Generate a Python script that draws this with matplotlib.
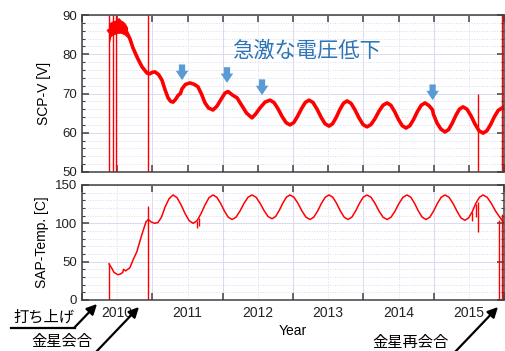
import numpy as np
import matplotlib
matplotlib.use('Agg')
import matplotlib.pyplot as plt
from matplotlib.ticker import MultipleLocator, FixedLocator, NullFormatter

plt.rcParams['font.family'] = ['Liberation Sans', 'Noto Sans CJK JP', 'DejaVu Sans']

# SCP voltage [V] (year, value)
volt_t = [2010.384, 2010.45, 2010.52, 2010.58, 2010.63, 2010.68, 2010.725, 2010.79, 2010.853,
          2010.924, 2010.96, 2011.0, 2011.038, 2011.09, 2011.137, 2011.18, 2011.223, 2011.26,
          2011.294, 2011.33, 2011.37, 2011.40, 2011.422, 2011.47, 2011.536, 2011.60, 2011.649,
          2011.70, 2011.749, 2011.80, 2011.863, 2011.92, 2011.98, 2012.033, 2012.076, 2012.14,
          2012.204, 2012.27, 2012.34, 2012.417, 2012.47, 2012.53, 2012.602, 2012.673,
          2012.730, 2012.787, 2012.843, 2012.900, 2012.957,
          2013.011, 2013.065, 2013.120, 2013.174, 2013.228,
          2013.285, 2013.342, 2013.398, 2013.455, 2013.512,
          2013.563, 2013.614, 2013.666, 2013.717, 2013.768,
          2013.825, 2013.882, 2013.938, 2013.995, 2014.052,
          2014.109, 2014.166, 2014.223, 2014.280, 2014.337,
          2014.391, 2014.445, 2014.499, 2014.553, 2014.607,
          2014.661, 2014.715, 2014.769, 2014.823, 2014.877,
          2014.934, 2014.985, 2014.995, 2015.047, 2015.104, 2015.161,
          2015.212, 2015.263, 2015.315, 2015.366, 2015.417,
          2015.474, 2015.531, 2015.588, 2015.645, 2015.702,
          2015.756, 2015.810, 2015.864, 2015.918, 2015.972, 2016.0]
volt_v = [86.0, 86.8, 87.0, 86.8, 85.8, 84.0, 81.6, 79.0, 76.8,
          75.2, 75.0, 75.4, 75.5, 74.8, 73.4, 71.0, 68.9, 68.0,
          67.8, 68.5, 69.6, 70.0, 71.2, 72.3, 72.7, 72.3, 71.7,
          69.8, 67.6, 66.3, 65.8, 66.8, 68.6, 70.1, 70.5, 69.6,
          68.9, 67.0, 65.0, 63.8, 64.8, 66.3, 67.8, 68.3,
          67.7, 66.1, 64.2, 62.6, 62.0,
          62.6, 64.2, 66.1, 67.7, 68.3,
          67.7, 66.0, 64.0, 62.3, 61.7,
          62.3, 63.9, 65.9, 67.5, 68.1,
          67.5, 65.8, 63.8, 62.1, 61.5,
          62.1, 63.6, 65.5, 67.0, 67.6,
          67.0, 65.4, 63.4, 61.8, 61.2,
          61.8, 63.4, 65.4, 67.0, 67.6,
          66.9, 65.8, 64.8, 62.5, 60.9, 60.2,
          60.8, 62.4, 64.4, 66.0, 66.6,
          66.0, 64.3, 62.2, 60.5, 59.9,
          60.5, 62.1, 64.1, 65.7, 66.3, 66.6]

# noisy band right after launch
band_t = [2010.384, 2010.40, 2010.43, 2010.46, 2010.49, 2010.52, 2010.55, 2010.58, 2010.61, 2010.64]
band_lo = [83.0, 84.5, 85.0, 85.2, 85.4, 85.5, 85.5, 85.3, 85.0, 84.5]
band_hi = [87.5, 88.0, 88.3, 88.5, 88.6, 89.2, 88.6, 88.3, 87.8, 86.8]

# data drop-outs drawn as vertical spikes
vspike_t = [2010.384, 2010.437, 2010.483, 2010.943, 2015.631, 2015.972]
vspike_lo = [50, 50, 50, 50, 50, 50]
vspike_hi = [90, 90, 90, 90, 70, 90]

# SAP temperature [C]
temp_t = [2010.384, 2010.42, 2010.455, 2010.51, 2010.55, 2010.58, 2010.59, 2010.62, 2010.68,
          2010.725, 2010.78, 2010.85, 2010.91, 2010.943, 2010.98, 2011.03, 2011.08, 2011.13,
          2011.18, 2011.237, 2011.294,
          2011.351, 2011.408, 2011.465, 2011.523, 2011.58,
          2011.637, 2011.693, 2011.750, 2011.806, 2011.863,
          2011.917, 2011.971, 2012.025, 2012.079, 2012.133,
          2012.190, 2012.246, 2012.303, 2012.360, 2012.417,
          2012.474, 2012.531, 2012.588, 2012.645, 2012.702,
          2012.753, 2012.804, 2012.855, 2012.906, 2012.957,
          2013.014, 2013.071, 2013.128, 2013.185, 2013.242,
          2013.296, 2013.350, 2013.404, 2013.458, 2013.512,
          2013.566, 2013.620, 2013.674, 2013.728, 2013.782,
          2013.836, 2013.890, 2013.944, 2013.998, 2014.052,
          2014.109, 2014.166, 2014.223, 2014.280, 2014.337,
          2014.394, 2014.451, 2014.507, 2014.564, 2014.621,
          2014.675, 2014.729, 2014.783, 2014.837, 2014.891,
          2014.945, 2014.999, 2015.053, 2015.107, 2015.161,
          2015.218, 2015.275, 2015.331, 2015.388, 2015.445,
          2015.496, 2015.548, 2015.599, 2015.651, 2015.702,
          2015.76, 2015.82, 2015.88, 2015.94, 2015.972, 2016.0]
temp_v = [47, 42, 36, 33, 34, 36, 40, 38, 42,
          52, 63, 85, 102, 105, 102, 100, 101, 108,
          121, 132, 137,
          133.5, 124.2, 112.8, 103.5, 100,
          103.5, 112.8, 124.2, 133.5, 137,
          134, 126, 116, 108, 105,
          108, 116, 126, 134, 137,
          134.1, 126.3, 116.7, 108.9, 106,
          108.9, 116.7, 126.3, 134.1, 137,
          134, 126, 116, 108, 105,
          108, 116, 126, 134, 137,
          134, 126, 116, 108, 105,
          108, 116, 126, 134, 137,
          134, 126, 116, 108, 105,
          108, 116, 126, 134, 137,
          134, 126, 116, 108, 105,
          108, 116, 126, 134, 137,
          134, 126, 116, 107, 104,
          107, 115, 126, 134, 137,
          134, 126, 116, 108, 104, 100]

tspike_t = [2010.384, 2010.943, 2011.63, 2011.66, 2015.55, 2015.60, 2015.631, 2015.93, 2015.975]
tspike_lo = [0, 0, 94, 96, 103, 108, 89, 0, 0]
tspike_hi = [48, 122, 103, 107, 115, 125, 128, 104, 112]

# blue arrows: (year, tip value)
drop_t = [2011.422, 2012.061, 2012.560, 2014.985]
drop_v = [73.4, 72.7, 69.6, 68.3]

year_labels = ['2010', '2011', '2012', '2013', '2014', '2015']

red = '#ff0000'
grid_c = '#d9d9f2'
spine_c = '#404040'

fig = plt.figure(figsize=(5.05, 3.51), dpi=100)
W, H = 505, 351
ax1 = fig.add_axes([82/W, 1-172/H, 422/W, 157/H])
ax2 = fig.add_axes([82/W, 1-300/H, 422/W, 115/H], sharex=ax1)

# voltage
ax1.fill_between(band_t, band_lo, band_hi, color=red, lw=0.8)
ax1.plot(volt_t, volt_v, color=red, lw=2.6, solid_joinstyle='round')
ax1.vlines(vspike_t, vspike_lo, vspike_hi, color=red, lw=1.0)
ax1.set_ylim(50, 90)
ax1.yaxis.set_major_locator(MultipleLocator(10))
ax1.yaxis.set_minor_locator(MultipleLocator(2))
ax1.set_ylabel('SCP-V [V]', fontsize=10, labelpad=8)
for t, v in zip(drop_t, drop_v):
    ax1.annotate('', xy=(t, v), xytext=(t, v + 4.0),
                 arrowprops=dict(arrowstyle='simple,head_width=1.0,head_length=0.75,tail_width=0.5',
                                 color='#5b9bd5', lw=0, shrinkA=0, shrinkB=0,
                                 mutation_scale=9))
ax1.text(2013.185, 81.0, '急激な電圧低下', fontsize=15.3, color='#2e75b6',
         ha='center', va='center')

# temperature
ax2.plot(temp_t, temp_v, color=red, lw=1.1)
ax2.vlines(tspike_t, tspike_lo, tspike_hi, color=red, lw=1.0)
ax2.set_ylim(0, 150)
ax2.yaxis.set_major_locator(MultipleLocator(50))
ax2.yaxis.set_minor_locator(MultipleLocator(10))
ax2.set_ylabel('SAP-Temp. [C]', fontsize=10, labelpad=4)
ax2.set_xlabel('Year', fontsize=10, labelpad=3)

ax2.set_xlim(2010, 2016)
ax2.xaxis.set_major_locator(MultipleLocator(1))
ax2.xaxis.set_minor_locator(FixedLocator([y + 0.5 for y in range(2010, 2016)]))
ax2.xaxis.set_major_formatter(NullFormatter())
ax2.xaxis.set_minor_formatter(plt.FixedFormatter(year_labels))

for ax in (ax1, ax2):
    ax.grid(True, which='major', color=grid_c, lw=0.7, ls='-')
    ax.grid(True, which='minor', color=grid_c, lw=0.7, ls=':')
    ax.tick_params(which='both', direction='in', top=True, right=True,
                   colors=spine_c, labelcolor='#222222', labelsize=9.5)
    ax.tick_params(which='major', length=5, width=1.1)
    ax.tick_params(which='minor', length=2.5, width=0.8)
    for s in ax.spines.values():
        s.set_color(spine_c)
        s.set_linewidth(1.1)
    ax.set_axisbelow(True)

ax1.tick_params(axis='x', which='both', labelbottom=False)
ax1.tick_params(axis='x', which='minor', length=5, width=1.1)
ax2.tick_params(axis='x', which='minor', bottom=False, top=False, labelsize=10, pad=4)

# event annotations (figure pixels, origin bottom-left)
arw = dict(arrowstyle='-|>,head_width=0.3,head_length=0.6', color='black', lw=1.6,
           shrinkA=0, shrinkB=0)
fig.text(44/W, 1 - 317/H, '打ち上げ', fontsize=11, ha='center', va='center')
fig.add_artist(plt.Line2D([11/W, 75/W], [1 - 328/H, 1 - 328/H], color='black', lw=1.6,
                          transform=fig.transFigure))
ax2.annotate('', xy=(97, H - 304), xycoords='figure pixels',
             xytext=(74, H - 328), textcoords='figure pixels', arrowprops=arw,
             annotation_clip=False)
fig.text(62/W, 1 - 342/H, '金星会合', fontsize=11, ha='center', va='center')
ax2.annotate('', xy=(139, H - 307), xycoords='figure pixels',
             xytext=(96, H - 352), textcoords='figure pixels', arrowprops=arw,
             annotation_clip=False)
fig.text(411/W, 1 - 343/H, '金星再会合', fontsize=11, ha='center', va='center')
ax2.annotate('', xy=(498, H - 307), xycoords='figure pixels',
             xytext=(455, H - 352), textcoords='figure pixels', arrowprops=arw,
             annotation_clip=False)

fig.savefig('out.png', dpi=100)
